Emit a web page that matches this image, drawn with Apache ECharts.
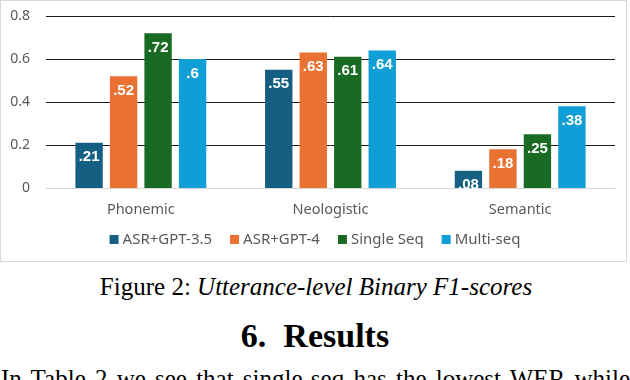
<!DOCTYPE html>
<html><head><meta charset="utf-8">
<script src="https://cdn.jsdelivr.net/npm/echarts@6/dist/echarts.min.js"></script>
<style>
html,body{margin:0;padding:0;background:#fff;width:630px;height:380px;overflow:hidden;position:relative;}
#frame{position:absolute;left:0;top:0;width:625px;height:260px;border:1px solid #d9d9d9;box-sizing:content-box;}
#chart{position:absolute;left:0;top:0;width:630px;height:262px;}
.t{position:absolute;left:0;width:630px;text-align:center;font-family:"Liberation Serif","Times New Roman",serif;color:#000;white-space:nowrap;}
.j{white-space:normal;text-align:justify;text-align-last:justify;left:1px;width:629px;}
</style></head>
<body>
<div id="frame"></div>
<div id="chart"></div>
<div class="t" style="top:271px;font-size:25px;line-height:32px;left:1px;">Figure 2: <i>Utterance-level Binary F1-scores</i></div>
<div class="t" style="top:315px;font-size:34px;line-height:42px;font-weight:bold;">6.&nbsp;&nbsp;Results</div>
<div class="t j" style="top:363px;font-size:25px;line-height:32px;">In Table 2 we see that single-seq has the lowest WER while</div>
<script>
const categories = ['Phonemic', 'Neologistic', 'Semantic'];
const seriesNames = ['ASR+GPT-3.5', 'ASR+GPT-4', 'Single Seq', 'Multi-seq'];
const asrGpt35 = [0.21, 0.55, 0.08];
const asrGpt4 = [0.52, 0.63, 0.18];
const singleSeq = [0.72, 0.61, 0.25];
const multiSeq = [0.60, 0.64, 0.38];
const yTicks = [0, 0.2, 0.4, 0.6, 0.8];
const colors = ['#156082', '#E97132', '#196B24', '#0F9ED5'];

const values = [asrGpt35, asrGpt4, singleSeq, multiSeq];
const chart = echarts.init(document.getElementById('chart'), null, {renderer: 'canvas'});
const font = '"Noto Sans", sans-serif';
chart.setOption({
  animation: false,
  grid: {left: 46, right: 15, top: 16, bottom: 74},
  legend: {
    data: seriesNames,
    bottom: 10,
    left: 'center',
    icon: 'rect',
    itemWidth: 9,
    itemHeight: 9,
    itemGap: 18,
    textStyle: {fontFamily: font, fontSize: 15, color: '#595959', padding: [0, 0, 0, -1]}
  },
  xAxis: {
    type: 'category',
    data: categories,
    axisTick: {show: false},
    axisLine: {lineStyle: {color: '#d9d9d9', width: 1}},
    axisLabel: {fontFamily: font, fontSize: 14.5, color: '#595959', margin: 14}
  },
  yAxis: {
    type: 'value',
    min: 0, max: 0.8, interval: 0.2,
    axisLabel: {fontFamily: font, fontSize: 14, color: '#595959', margin: 16,
      formatter: v => { const t = yTicks.find(x => Math.abs(x - v) < 1e-9); return t === 0 ? '0' : String(t); }},
    splitLine: {lineStyle: {color: '#1a1a1a', width: 1}},
    axisLine: {show: false}, axisTick: {show: false}
  },
  series: seriesNames.map((name, i) => ({
    name, type: 'bar', data: values[i],
    barGap: '26%', barCategoryGap: '31%',
    itemStyle: {color: colors[i]},
    label: {show: true, position: 'insideTop', distance: 7, color: '#fff',
      fontFamily: '"Liberation Sans", Arial, sans-serif', fontWeight: 'bold', fontSize: 15,
      formatter: p => String(p.value).replace(/^0/, '')}
  }))
});
</script>
</body></html>
